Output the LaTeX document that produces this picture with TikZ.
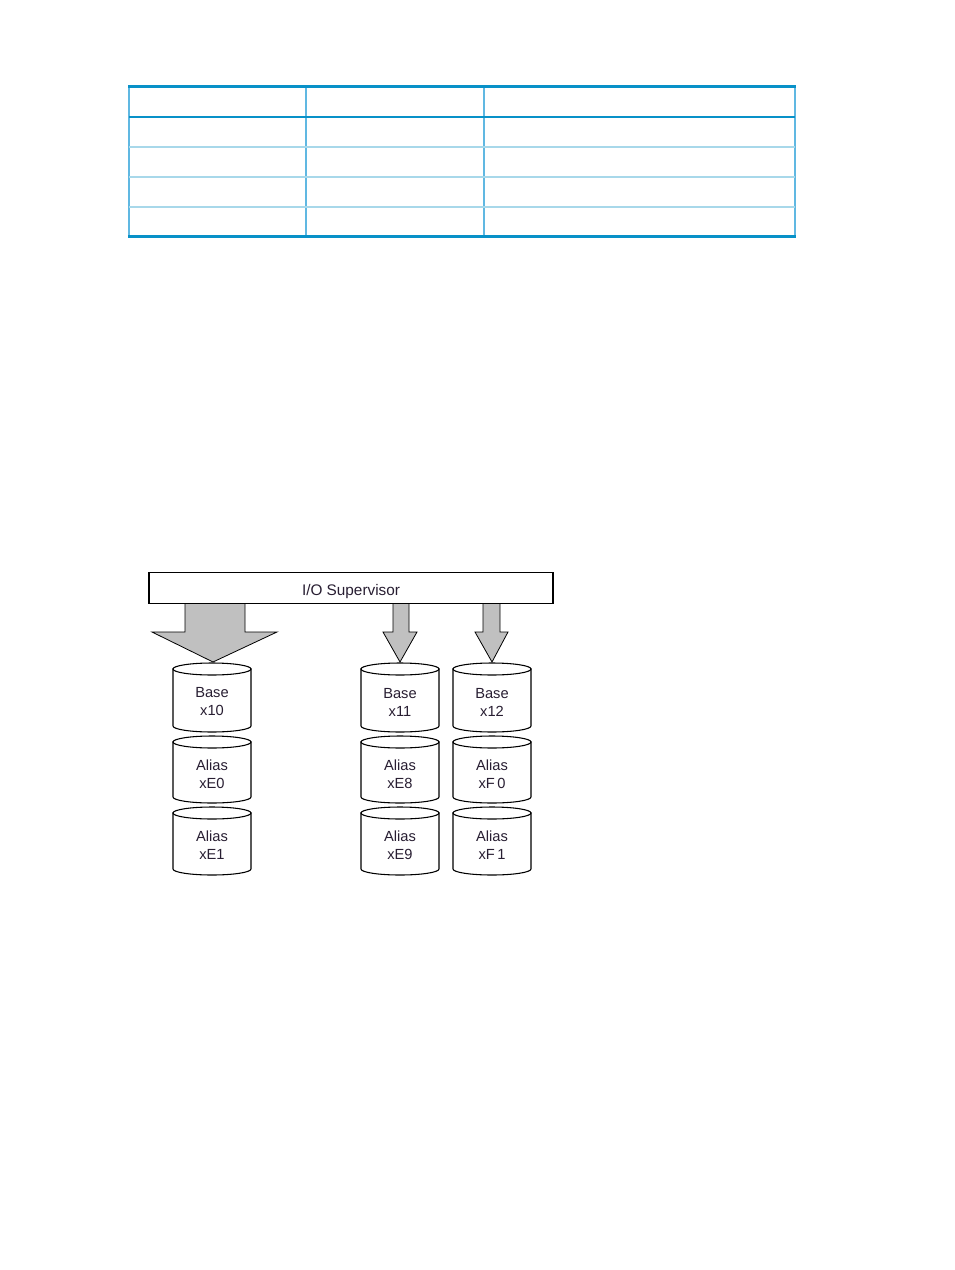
\documentclass[tikz,border=0pt]{standalone}
\usepackage{fontspec}
\setmainfont{Liberation Sans}
\definecolor{tbldark}{RGB}{8,145,200}
\definecolor{tbllight}{RGB}{168,216,234}
\definecolor{tblvert}{RGB}{96,184,226}
\definecolor{arrowgray}{RGB}{192,192,192}
\definecolor{txt}{RGB}{40,30,50}
\begin{document}
\begin{tikzpicture}[x=0.75pt,y=-0.75pt,
  thickrule/.style={draw=tbldark,line width=2.25pt},
  medrule/.style={draw=tbldark,line width=1.6pt},
  lightrule/.style={draw=tbllight,line width=1.6pt},
  vrule/.style={draw=tblvert,line width=0.8pt},
  supbox/.style={draw=black,line width=0.8pt,fill=white,minimum width=303pt,minimum height=23.25pt,inner sep=0pt},
  suptext/.style={font=\fontsize{11.5}{13}\selectfont,text=txt,inner sep=0pt,anchor=base},
  bigarrow/.style={draw=black,line width=0.6pt,fill=arrowgray,line join=miter},
  cylbody/.style={draw=black,line width=0.8pt,fill=white},
  cyltext/.style={align=center,font=\fontsize{11}{13.5}\selectfont,text=txt,inner sep=0pt}]
\useasboundingbox (0,0) rectangle (954,1270);
% table
\draw[vrule] (129,86) -- (129,238);
\draw[vrule] (306,86) -- (306,238);
\draw[vrule] (484,86) -- (484,238);
\draw[vrule] (795,86) -- (795,238);
\draw[lightrule] (129,147) -- (795,147);
\draw[lightrule] (129,177) -- (795,177);
\draw[lightrule] (129,207) -- (795,207);
\draw[medrule] (129,117) -- (795,117);
\draw[thickrule] (128,86.5) -- (796,86.5);
\draw[thickrule] (128,236.5) -- (796,236.5);
% supervisor
\node[supbox] (sup) at (351,588) {};
\node[suptext] (suplabel) at (351,595.5) {I/O Supervisor};
% arrows
\draw[bigarrow] (185,604) -- (185,632) -- (152,632) -- (213,662) -- (277,632) -- (245,632) -- (245,604);
\draw[bigarrow] (393,604) -- (393,632) -- (383,632) -- (400,662) -- (417,632) -- (409,632) -- (409,604);
\draw[bigarrow] (483,604) -- (483,632) -- (475,632) -- (492,662) -- (508,632) -- (500,632) -- (500,604);
% cylinders
\foreach \nm/\cx/\tp/\bt/\la/\lb in {
  b10/212/663/732/Base/x10, e0/212/736/803/Alias/xE0, e1/212/807/875/Alias/xE1,
  b11/400/663/732/Base/x11, e8/400/736/803/Alias/xE8, e9/400/807/875/Alias/xE9,
  b12/492/663/732/Base/x12, f0/492/736/803/Alias/xF\,0, f1/492/807/875/Alias/xF\,1}{
  \pgfmathsetmacro{\xl}{\cx-39}
  \pgfmathsetmacro{\xr}{\cx+39}
  \pgfmathsetmacro{\yt}{\tp+6}
  \pgfmathsetmacro{\yb}{\bt-6}
  \pgfmathsetmacro{\ym}{(\tp+\bt)/2+4.5}
  \draw[cylbody] (\xl,\yt) -- (\xl,\yb) arc[start angle=180,end angle=360,x radius=29.25pt,y radius=4.5pt] -- (\xr,\yt) -- cycle;
  \draw[cylbody] (\cx,\yt) ellipse[x radius=29.25pt,y radius=4.5pt];
  \node[cyltext] (\nm) at (\cx,\ym) {\la\\\lb};
}
\end{tikzpicture}
\end{document}
